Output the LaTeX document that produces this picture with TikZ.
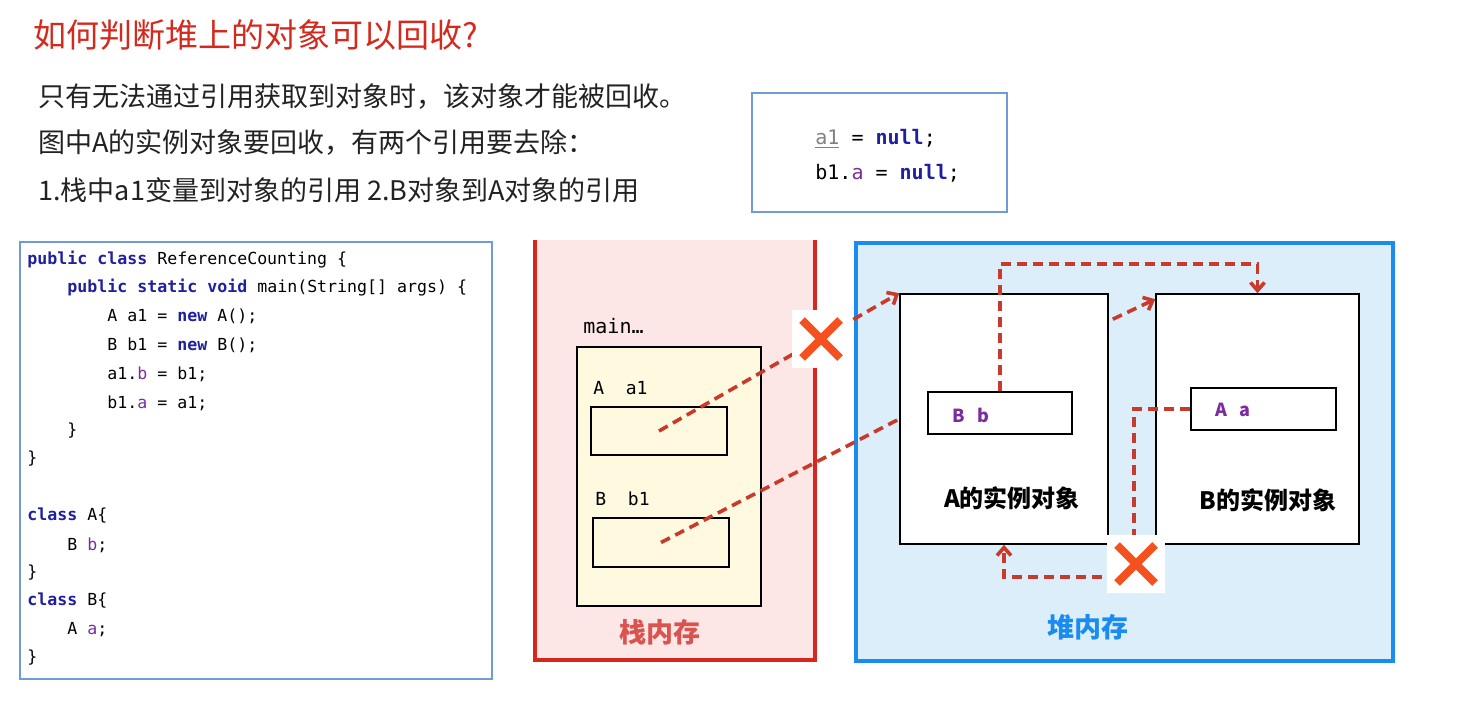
\documentclass[tikz,border=0pt]{standalone}
\usepackage{fontspec}
\setmainfont{Noto Sans CJK SC}
\setmonofont{DejaVu Sans Mono}
\usepackage{xcolor}
\usepackage{tikz}
\usetikzlibrary{arrows.meta,positioning,calc}
\definecolor{ttl}{HTML}{D42A1E}
\definecolor{txt}{HTML}{222222}
\definecolor{kw}{HTML}{1F1FA0}
\definecolor{fld}{HTML}{7B2C9E}
\definecolor{ref}{HTML}{C93A2B}
\definecolor{cross}{HTML}{F4511E}
\definecolor{stk}{HTML}{D7261E}
\definecolor{stklbl}{HTML}{D9534F}
\definecolor{stkbg}{HTML}{FDE6E6}
\definecolor{heap}{HTML}{1A8CF0}
\definecolor{heapbg}{HTML}{DDEEFB}
\definecolor{frm}{HTML}{FFF9DF}
\definecolor{codeframe}{HTML}{6F9BD8}
\tikzset{
  line/.style={anchor=west,inner sep=0pt,text=txt,font=\fontsize{13.5}{16}\selectfont},
  codeln/.style={anchor=west,inner sep=0pt,font=\ttfamily\fontsize{8.3}{10}\selectfont},
  slot/.style={draw,line width=0.8pt},
  obj/.style={draw,fill=white,line width=0.8pt},
  refl/.style={draw=ref,line width=1.8pt,dash pattern=on 5pt off 3pt},
  tip/.style={-{Straight Barb[length=4pt,width=7pt]}},
  nogo/.style={fill=white,minimum size=29pt,inner sep=0pt,
    path picture={\draw[cross,line width=4pt]
      ([shift={(5pt,5pt)}]path picture bounding box.south west) -- ([shift={(-5pt,-5pt)}]path picture bounding box.north east)
      ([shift={(5pt,-5pt)}]path picture bounding box.north west) -- ([shift={(-5pt,5pt)}]path picture bounding box.south east);}}
}
\newcommand{\kw}[1]{\textbf{\textcolor{kw}{#1}}}
\newcommand{\fl}[1]{\textcolor{fld}{#1}}

\begin{document}
\begin{tikzpicture}[x=0.5pt,y=-0.5pt]
  \useasboundingbox (0,0) rectangle (1457,706);
  % heading and notes
  \node[line,text=ttl,font=\fontsize{16.5}{20}\selectfont] (title) at (33,35) {如何判断堆上的对象可以回收?};
  \node[line] (l1) at (38,97) {只有无法通过引用获取到对象时，该对象才能被回收。};
  \node[line] (l2) at (38,143) {图中A的实例对象要回收，有两个引用要去除：};
  \node[line] (l3) at (38,190) {1.栈中a1变量到对象的引用 2.B对象到A对象的引用};
  % null snippet
  \draw[codeframe,line width=0.8pt] (752,93) rectangle (1007,212);
  \node[codeln,font=\ttfamily\fontsize{10}{12}\selectfont] (n1) at (815,139) {\textcolor{gray}{\underline{a1}} = \kw{null};};
  \node[codeln,font=\ttfamily\fontsize{10}{12}\selectfont] (n2) at (815,173) {b1.\fl{a} = \kw{null};};
  % source listing
  \draw[codeframe,line width=0.8pt] (20,242) rectangle (492,679);
  \node[codeln] (c1) at (27,260) {\kw{public class} ReferenceCounting \{};
  \node[codeln] (c2) at (67,288) {\kw{public static void} main(String[] args) \{};
  \node[codeln] (c3) at (107,316) {A a1 = \kw{new} A();};
  \node[codeln] (c4) at (107,345) {B b1 = \kw{new} B();};
  \node[codeln] (c5) at (107,374) {a1.\fl{b} = b1;};
  \node[codeln] (c6) at (107,403) {b1.\fl{a} = a1;};
  \node[codeln] (c7) at (67,431) {\}};
  \node[codeln] (c8) at (27,459) {\}};
  \node[codeln] (c9) at (27,516) {\kw{class} A\{};
  \node[codeln] (c10) at (67,545) {B \fl{b};};
  \node[codeln] (c11) at (27,573) {\}};
  \node[codeln] (c12) at (27,601) {\kw{class} B\{};
  \node[codeln] (c13) at (67,630) {A \fl{a};};
  \node[codeln] (c14) at (27,658) {\}};
  % stack
  \fill[stkbg] (535,240) rectangle (815,660);
  \draw[stk,line width=2pt] (535,240) -- (535,660) -- (815,660) -- (815,240);
  \node[codeln,font=\ttfamily\fontsize{10}{12}\selectfont] (mn) at (583,326) {main…};
  \node[draw,fill=frm,line width=0.8pt,minimum width=92pt,minimum height=129.5pt] (frame) at (669,476.5) {};
  \node[codeln,font=\ttfamily\fontsize{9}{11}\selectfont] (va) at (593,388) {A~~a1};
  \node[slot,minimum width=68pt,minimum height=24pt] (a1) at (659,431) {};
  \node[codeln,font=\ttfamily\fontsize{9}{11}\selectfont] (vb) at (595,499) {B~~b1};
  \node[slot,minimum width=68pt,minimum height=24.5pt] (b1) at (661,542.5) {};
  \node[text=stklbl,font=\bfseries\fontsize{13.5}{16}\selectfont] (stklbl) at (660,632) {栈内存};
  % heap
  \draw[heap,fill=heapbg,line width=2pt] (856,243) rectangle (1393,661);
  \node[obj,minimum width=104pt,minimum height=125pt] (A) at (1004,419) {};
  \node[obj,minimum width=101.5pt,minimum height=125pt] (B) at (1257.5,419) {};
  \node[slot,minimum width=72pt,minimum height=21pt] (bb) at (1000,413) {};
  \node[anchor=west,text=fld,font=\bfseries\fontsize{9}{11}\selectfont] (bbl) at (945,415) {B\hspace{0.7em}b};
  \node[slot,minimum width=72.5pt,minimum height=21pt] (aa) at (1263.5,409) {};
  \node[anchor=west,text=fld,font=\bfseries\fontsize{9}{11}\selectfont] (aal) at (1208,410) {A\hspace{0.7em}a};
  \node[font=\bfseries\fontsize{12}{14}\selectfont] (Alb) at (1012,498) {A的实例对象};
  \node[font=\bfseries\fontsize{12}{14}\selectfont] (Blb) at (1268,500) {B的实例对象};
  \node[text=heap,font=\bfseries\fontsize{13.5}{16}\selectfont] (heaplbl) at (1088,627) {堆内存};
  % references
  \draw[refl,tip] (a1.center) -- (A.north west);
  \draw[refl] (b1.center) -- (A.west);
  \draw[refl,tip] (bb.north) -- ++(0,-127) -| (B.north);
  \draw[refl,tip] ([xshift=2pt,yshift=-13pt]A.north east) -- ([yshift=-3pt]B.north west);
  \draw[refl,tip] (aa.west) -- ++(-56,0) -- ++(0,168) -| (A.south);
  % removed links
  \node[nogo] (x1) at (821,339) {};
  \node[nogo] (x2) at (1136,564) {};
\end{tikzpicture}
\end{document}
